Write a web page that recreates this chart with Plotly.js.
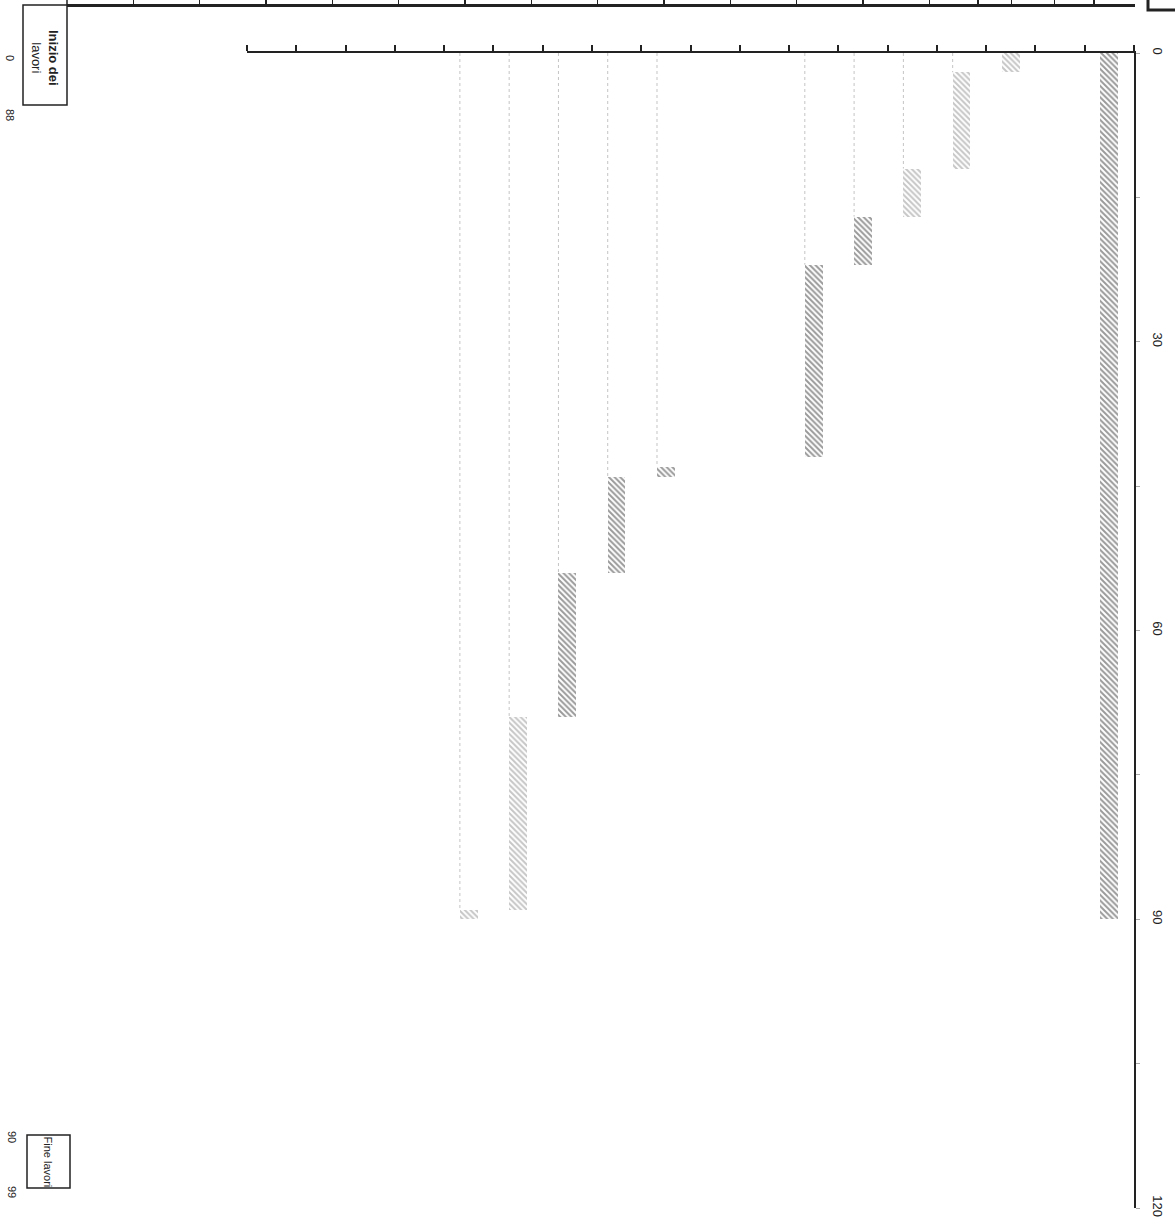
<!DOCTYPE html>
<html>
<head>
<meta charset="utf-8">
<script src="https://cdn.plot.ly/plotly-3.0.1.min.js"></script>
<style>
html,body{margin:0;padding:0;background:#fff;}
#chart{width:1175px;height:1225px;}
</style>
</head>
<body>
<div id="chart"></div>
<script>
// ---- data (time in days) ----
const taskSlots  = [1, 3, 4, 5, 6, 7, 10, 11, 12, 13, 14];
const taskStart  = [0, 0, 2, 12, 17, 22, 43, 44, 54, 69, 89];
const taskEnd    = [90, 2, 12, 17, 22, 42, 44, 54, 69, 89, 90];
const taskShade  = ['dark','light','light','light','dark','dark','dark','dark','dark','light','light'];
const slotCount  = 18;
const timeTicks  = [0, 15, 30, 45, 60, 75, 90, 105, 120];
const timeLabels = ['0', '', '30', '', '60', '', '90', '', '120'];
const frameTicks = [1,2,3,4,5,6,7,8,9,10,11,12,13,13.73,14.24,14.89,15.48];
const startLabels = ['0', '88'];
const endLabels   = ['90', '99'];

const W = 1175, H = 1225;
const px = v => v / W, py = v => 1 - v / H;

const barW = 0.36;
const shadeStyle = {
  dark:  {fg: '#1f1f1f', bg: '#9a9a9a'},
  light: {fg: '#555555', bg: '#c6c6c6'}
};

const bars = {
  type: 'bar',
  x: taskSlots,
  base: taskStart,
  y: taskEnd.map((e, i) => e - taskStart[i]),
  width: barW,
  marker: {
    color: taskShade.map(s => shadeStyle[s].bg),
    line: {width: 0},
    pattern: {
      shape: '\\',
      fgcolor: taskShade.map(s => shadeStyle[s].fg),
      bgcolor: taskShade.map(s => shadeStyle[s].bg),
      size: 4,
      solidity: 0.5
    }
  },
  hoverinfo: 'skip',
  showlegend: false
};

// leader lines from the top axis to each task's start
const lx = [], ly = [];
taskSlots.forEach((s, i) => {
  if (taskStart[i] > 0) {
    lx.push(s + barW / 2, s + barW / 2, null);
    ly.push(0, taskStart[i], null);
  }
});
const leaders = {
  type: 'scatter', mode: 'lines', x: lx, y: ly,
  line: {color: '#c4c4c4', width: 1, dash: 'dot'},
  hoverinfo: 'skip', showlegend: false
};

const dummy = {type: 'scatter', x: [null], y: [null], xaxis: 'x2', yaxis: 'y2',
  hoverinfo: 'skip', showlegend: false};

const rotNote = (x, y, text, size) => ({
  xref: 'paper', yref: 'paper', x: px(x), y: py(y),
  xanchor: 'center', yanchor: 'middle',
  text: text, showarrow: false, textangle: 90,
  font: {size: size, color: '#222'}
});

const layout = {
  width: W, height: H,
  margin: {l: 0, r: 0, t: 0, b: 0},
  paper_bgcolor: '#fff', plot_bgcolor: 'rgba(0,0,0,0)',
  font: {family: 'Liberation Sans, Arial, sans-serif', color: '#222', size: 13},
  bargap: 0,
  xaxis: {
    domain: [px(247), px(1134)],
    range: [slotCount + 0.5, 0.5],
    side: 'top', anchor: 'y',
    showgrid: false, zeroline: false,
    showline: true, linecolor: '#222', linewidth: 2.5,
    tickmode: 'array',
    tickvals: Array.from({length: slotCount + 1}, (_, i) => i + 0.5),
    showticklabels: false,
    ticks: 'outside', ticklen: 6, tickwidth: 2, tickcolor: '#222',
    fixedrange: true
  },
  yaxis: {
    domain: [1 - 1208 / H, 1 - 53 / H],
    range: [120, 0],
    side: 'right', anchor: 'x',
    showgrid: false, zeroline: false,
    showline: true, linecolor: '#222', linewidth: 1.5,
    tickmode: 'array', tickvals: timeTicks, ticktext: timeLabels,
    ticks: 'outside', ticklen: 4, tickwidth: 1, tickcolor: '#aaa',
    tickangle: 90, ticklabelstandoff: 8,
    tickfont: {size: 13, color: '#222'},
    fixedrange: true
  },
  xaxis2: {
    domain: [px(67), px(1135)],
    range: [0, 16.1],
    anchor: 'y2', side: 'top',
    showgrid: false, zeroline: false,
    showline: true, linecolor: '#222', linewidth: 3,
    tickmode: 'array', tickvals: frameTicks,
    showticklabels: false,
    ticks: 'outside', ticklen: 7, tickwidth: 1.5, tickcolor: '#222',
    fixedrange: true
  },
  yaxis2: {
    domain: [0.975, py(7)],
    range: [0, 1], visible: false, fixedrange: true
  },
  shapes: [
    {type: 'rect', xref: 'paper', yref: 'paper',
     x0: px(23), x1: px(67), y0: py(105), y1: py(5),
     line: {color: '#222', width: 1.5}},
    {type: 'line', xref: 'paper', yref: 'paper',
     x0: px(67), x1: px(67), y0: py(5), y1: py(0),
     line: {color: '#222', width: 1.5}},
    {type: 'rect', xref: 'paper', yref: 'paper',
     x0: px(27), x1: px(70), y0: py(1188), y1: py(1135),
     line: {color: '#222', width: 1.5}},
    {type: 'rect', xref: 'paper', yref: 'paper',
     x0: px(1148), x1: px(1185), y0: py(10), y1: py(-5),
     line: {color: '#222', width: 3}}
  ],
  annotations: [
    rotNote(45, 58, '<b>Inizio dei</b><br>lavori', 13),
    rotNote(10, 58, startLabels[0], 11),
    rotNote(10, 115, startLabels[1], 11),
    rotNote(48, 1161.5, 'Fine lavori', 11),
    rotNote(12, 1137, endLabels[0], 11),
    rotNote(12, 1192, endLabels[1], 11)
  ]
};

Plotly.newPlot('chart', [leaders, bars, dummy], layout, {staticPlot: true, displayModeBar: false});
</script>
</body>
</html>
